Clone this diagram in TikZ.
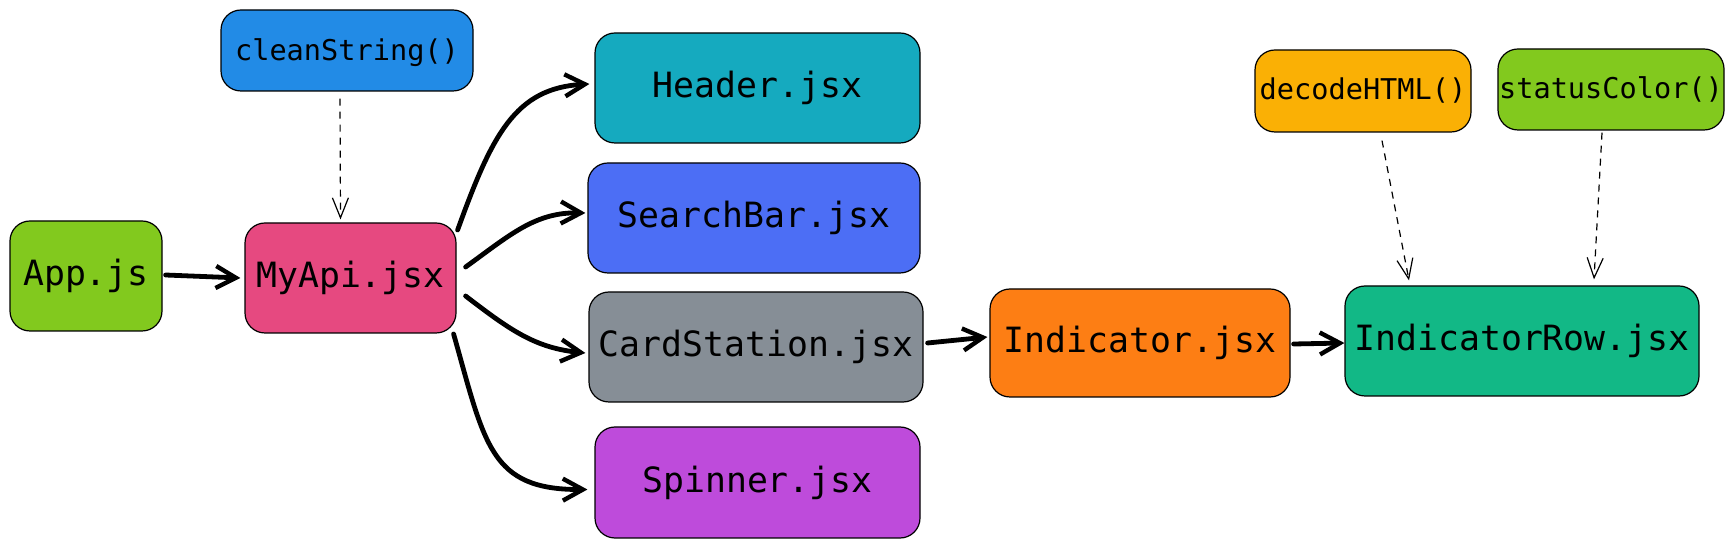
\documentclass[tikz,border=0pt]{standalone}
\usepackage{fontspec}
\newfontfamily\monofont{DejaVu Sans Mono}
\usetikzlibrary{arrows.meta,calc}
\definecolor{ocblue}{HTML}{228BE6}
\definecolor{oclime}{HTML}{82C91E}
\definecolor{ocpink}{HTML}{E64980}
\definecolor{occyan}{HTML}{15AABF}
\definecolor{ocindigo}{HTML}{4C6EF5}
\definecolor{ocgray}{HTML}{868E96}
\definecolor{ocgrape}{HTML}{BE4BDB}
\definecolor{ocorange}{HTML}{FD7E14}
\definecolor{octeal}{HTML}{12B886}
\definecolor{ocyellow}{HTML}{FAB005}
\tikzset{
  box/.style={draw=black, line width=0.6pt, rounded corners=10pt, inner sep=0pt,
    font=\monofont\fontsize{17.4}{20}\selectfont},
  smallbox/.style={box, font=\monofont\fontsize{14.3}{16}\selectfont},
  flow/.style={line width=2.4pt, line cap=round, line join=round,
    -{Straight Barb[length=10pt,width=11pt,line width=2.2pt]}},
  uses/.style={line width=0.6pt, dash pattern=on 3.5pt off 3pt,
    -{Straight Barb[length=10pt,width=8pt,line width=0.6pt]}}
}
\begin{document}
\begin{tikzpicture}[x=0.5pt,y=-0.5pt]
\useasboundingbox (0,0) rectangle (1734,549);
\node[smallbox, fill=ocblue, minimum width=126pt, minimum height=40.5pt, text depth=1pt] (clean) at (347,50.5) {cleanString()};
\node[box, fill=oclime, minimum width=76pt, minimum height=55pt] (app) at (86,276) {App.js};
\node[box, fill=ocpink, minimum width=105.5pt, minimum height=55pt] (myapi) at (350.5,278) {MyApi.jsx};
\node[box, fill=occyan, minimum width=162.5pt, minimum height=55pt] (header) at (757.5,88) {Header.jsx};
\node[box, fill=ocindigo, minimum width=166pt, minimum height=55pt] (searchbar) at (754,218) {SearchBar.jsx};
\node[box, fill=ocgray, minimum width=167pt, minimum height=55pt] (cardstation) at (756,347) {CardStation.jsx};
\node[box, fill=ocgrape, minimum width=162.5pt, minimum height=55.5pt] (spinner) at (757.5,482.5) {Spinner.jsx};
\node[box, fill=ocorange, minimum width=150pt, minimum height=54pt] (indicator) at (1140,343) {Indicator.jsx};
\node[box, fill=octeal, minimum width=177pt, minimum height=55pt] (indrow) at (1522,341) {IndicatorRow.jsx};
\node[smallbox, fill=ocyellow, minimum width=108pt, minimum height=41pt] (decode) at (1363,91) {decodeHTML()};
\node[smallbox, fill=oclime, minimum width=113pt, minimum height=40.5pt] (status) at (1611,89.5) {statusColor()};

\draw[flow] ($(app.east)+(3,-1)$) -- ($(myapi.west)+(-4,0)$);
\draw[flow] ($(myapi.east)+(1,-48)$) .. controls (492,135) and (515,88) .. ($(header.west)+(-5,-4)$);
\draw[flow] ($(myapi.east)+(9,-11)$) .. controls (510,235) and (535,212) .. ($(searchbar.west)+(-2,-5)$);
\draw[flow] ($(myapi.east)+(9,18)$) .. controls (510,330) and (535,348) .. ($(cardstation.west)+(-3,6)$);
\draw[flow] ($(myapi.east)+(-3,56)$) .. controls (485,445) and (490,490) .. ($(spinner.west)+(-7,7)$);
\draw[flow] ($(cardstation.east)+(4,-4)$) -- ($(indicator.west)+(-2,-6)$);
\draw[flow] ($(indicator.east)+(3,1)$) -- ($(indrow.west)+(0,2)$);

\draw[uses] ($(clean.south)+(-7,7)$) -- ($(myapi.north)+(-10,-3)$);
\draw[uses] ($(decode.south)+(19,8)$) -- ($(indrow.north)+(-113,-5)$);
\draw[uses] ($(status.south)+(-9,2)$) -- ($(indrow.north)+(72,-6)$);
\end{tikzpicture}
\end{document}
